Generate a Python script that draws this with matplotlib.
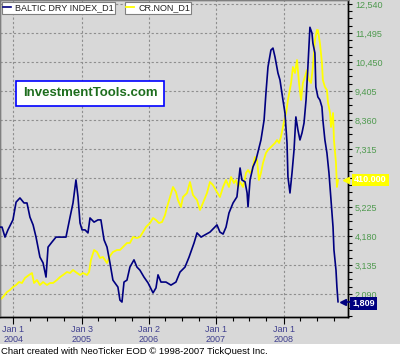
import matplotlib
matplotlib.use("Agg")
import matplotlib.pyplot as plt
import matplotlib.dates as mdates
from matplotlib.ticker import FixedLocator, FuncFormatter, MultipleLocator
from matplotlib.patches import Rectangle
import pandas as pd

# ---------------- data ----------------
bdi_dates = ["2003-10-20", "2003-10-31", "2003-11-16", "2003-12-02", "2003-12-29", "2004-01-15",
             "2004-02-05", "2004-02-27", "2004-03-14", "2004-03-30", "2004-04-16", "2004-05-02",
             "2004-05-23", "2004-06-09", "2004-06-25", "2004-07-06", "2004-07-27", "2004-08-18",
             "2004-09-19", "2004-10-11", "2004-11-02", "2004-11-18", "2004-12-04", "2004-12-15",
             "2004-12-26", "2005-01-06", "2005-01-22", "2005-02-07", "2005-02-18", "2005-03-12",
             "2005-04-02", "2005-04-18", "2005-05-05", "2005-05-21", "2005-06-06", "2005-06-22",
             "2005-07-19", "2005-07-30", "2005-08-10", "2005-08-21", "2005-09-06", "2005-09-22",
             "2005-10-14", "2005-10-30", "2005-11-15", "2005-12-07", "2005-12-29", "2006-01-25",
             "2006-02-10", "2006-02-21", "2006-03-09", "2006-04-05", "2006-05-02", "2006-05-29",
             "2006-06-20", "2006-07-17", "2006-08-08", "2006-09-04", "2006-09-20", "2006-10-12",
             "2006-11-02", "2006-11-29", "2006-12-21", "2007-01-06", "2007-01-22", "2007-02-08",
             "2007-02-24", "2007-03-12", "2007-04-03", "2007-04-24", "2007-04-30", "2007-05-11",
             "2007-05-21", "2007-06-07", "2007-06-18", "2007-06-23", "2007-07-04", "2007-07-20",
             "2007-08-05", "2007-08-16", "2007-09-01", "2007-09-18", "2007-09-28", "2007-10-09",
             "2007-10-25", "2007-11-05", "2007-11-16", "2007-12-02", "2007-12-13", "2007-12-29",
             "2008-01-09", "2008-01-20", "2008-01-25", "2008-02-05", "2008-02-16", "2008-02-27",
             "2008-03-08", "2008-03-19", "2008-03-30", "2008-04-10", "2008-04-21", "2008-05-02",
             "2008-05-12", "2008-05-23", "2008-06-03", "2008-06-08", "2008-06-19", "2008-06-24",
             "2008-07-05", "2008-07-16", "2008-07-27", "2008-08-01", "2008-08-12", "2008-08-23",
             "2008-09-03", "2008-09-14", "2008-09-25", "2008-09-30", "2008-10-11", "2008-10-16",
             "2008-10-22"]
bdi_values = [4500, 4500, 4140, 4400, 4760, 5400,
              5550, 5370, 5370, 4860, 4580, 4140,
              3420, 3210, 2700, 3780, 3960, 4140,
              4140, 4140, 4860, 5370, 6200, 5590,
              4650, 4400, 4400, 4290, 4830, 4680,
              4760, 4760, 4040, 3780, 3210, 2590,
              2340, 1870, 1800, 2520, 2590, 3060,
              3320, 3060, 2950, 2700, 2490, 2130,
              2310, 2780, 2520, 2520, 2410, 2520,
              2880, 3060, 3420, 3930, 4290, 4140,
              4220, 4320, 4470, 4580, 4320, 4250,
              4500, 5010, 5370, 5590, 5950, 6630,
              6200, 6130, 5730, 5230, 6200, 6670,
              6920, 7210, 7640, 8360, 9330, 10270,
              10880, 10950, 10630, 10050, 9800, 9080,
              8610, 7530, 6310, 5730, 6450, 7280,
              8470, 8000, 7640, 7890, 8250, 9080,
              10270, 11700, 11490, 11130, 10770, 9550,
              9190, 9080, 8830, 8360, 7640, 7170,
              6450, 5480, 4500, 3680, 2950, 2340,
              1809]

crnon_dates = ["2003-10-20", "2003-11-05", "2003-11-27", "2003-12-13", "2003-12-29", "2004-01-15",
               "2004-01-31", "2004-02-16", "2004-03-03", "2004-03-25", "2004-04-10", "2004-04-21",
               "2004-05-07", "2004-05-23", "2004-06-09", "2004-06-30", "2004-07-17", "2004-08-02",
               "2004-08-23", "2004-09-09", "2004-09-25", "2004-10-16", "2004-11-02", "2004-11-18",
               "2004-12-10", "2004-12-26", "2005-01-11", "2005-02-02", "2005-02-13", "2005-02-23",
               "2005-03-12", "2005-03-28", "2005-04-13", "2005-04-29", "2005-05-21", "2005-06-06",
               "2005-06-22", "2005-07-14", "2005-07-30", "2005-08-15", "2005-09-06", "2005-09-22",
               "2005-10-09", "2005-10-30", "2005-11-15", "2005-12-02", "2005-12-18", "2006-01-09",
               "2006-01-25", "2006-02-10", "2006-02-26", "2006-03-15", "2006-03-31", "2006-04-11",
               "2006-04-27", "2006-05-13", "2006-05-29", "2006-06-09", "2006-06-25", "2006-07-06",
               "2006-07-28", "2006-08-13", "2006-08-29", "2006-09-20", "2006-10-06", "2006-10-22",
               "2006-11-13", "2006-11-29", "2006-12-15", "2007-01-06", "2007-01-22", "2007-02-08",
               "2007-02-24", "2007-03-12", "2007-03-23", "2007-04-08", "2007-04-19", "2007-04-30",
               "2007-05-11", "2007-05-27", "2007-06-12", "2007-06-23", "2007-07-04", "2007-07-15",
               "2007-07-31", "2007-08-11", "2007-08-21", "2007-09-01", "2007-09-12", "2007-09-28",
               "2007-10-09", "2007-10-25", "2007-11-05", "2007-11-16", "2007-11-27", "2007-12-08",
               "2007-12-18", "2007-12-29", "2008-01-09", "2008-01-15", "2008-01-25", "2008-02-11",
               "2008-02-21", "2008-03-03", "2008-03-14", "2008-03-25", "2008-04-05", "2008-04-15",
               "2008-04-26", "2008-05-07", "2008-05-18", "2008-05-29", "2008-06-08", "2008-06-19",
               "2008-06-30", "2008-07-05", "2008-07-16", "2008-07-27", "2008-08-01", "2008-08-12",
               "2008-08-23", "2008-08-29", "2008-09-09", "2008-09-14", "2008-09-25", "2008-09-30",
               "2008-10-11", "2008-10-16", "2008-10-22"]
crnon_values = [170, 176, 186, 190, 196, 200,
                206, 204, 214, 220, 224, 204,
                210, 200, 206, 200, 204, 204,
                210, 216, 220, 226, 224, 230,
                224, 220, 224, 220, 226, 250,
                270, 266, 254, 256, 244, 258,
                266, 270, 270, 276, 284, 284,
                296, 294, 296, 306, 316, 324,
                334, 330, 324, 326, 340, 356,
                376, 396, 386, 370, 356, 376,
                384, 406, 380, 370, 350, 364,
                384, 406, 400, 386, 376, 396,
                410, 396, 416, 404, 410, 396,
                406, 396, 424, 430, 424, 430,
                456, 450, 410, 424, 444, 464,
                470, 476, 480, 484, 490, 484,
                496, 516, 536, 544, 570, 604,
                636, 624, 650, 604, 570, 604,
                616, 630, 610, 604, 636, 690,
                710, 710, 684, 644, 610, 596,
                590, 564, 544, 516, 544, 490,
                444, 396, 410]

bdi_ticks = [2090, 3135, 4180, 5225, 6270, 7315, 8360, 9405, 10450, 11495, 12540]
hidden_tick = 6270  # covered by the last-value box in the reference
x_tick_dates = ["2004-01-01", "2005-01-03", "2006-01-02", "2007-01-01", "2008-01-01"]
x_tick_labels = ["Jan 1\n2004", "Jan 3\n2005", "Jan 2\n2006", "Jan 1\n2007", "Jan 1\n2008"]
series_names = ["BALTIC DRY INDEX_D1", "CR.NON_D1"]
last_crnon_label = "410.000"
last_bdi_label = "1,809"

# ---------------- styling ----------------
plt.rcParams["font.family"] = ["Liberation Sans", "DejaVu Sans"]
BG = "#D8D8D8"
NAVY = "#000080"
YEL = "#FFFF00"
GREEN = "#4F9A4F"
XLAB = "#40408F"

fig = plt.figure(figsize=(4.0, 3.55), dpi=100, facecolor=BG)
fig.patches.append(Rectangle((0, 0), 1, 11 / 355, transform=fig.transFigure,
                             facecolor="white", edgecolor="none", zorder=0))

ax = fig.add_axes([0.0, 38 / 355, 348 / 400, 317 / 355])
ax.set_facecolor(BG)
ax2 = ax.twinx()

bd = pd.to_datetime(bdi_dates)
cd = pd.to_datetime(crnon_dates)

ax.set_xlim(pd.Timestamp("2003-10-20"), pd.Timestamp("2008-12-15"))
ax.set_ylim(1261, 12683)
ax2.set_ylim(136, 770)

# grid
gstyle = dict(color="#8E8E8E", linestyle=(0, (2, 2)), linewidth=0.8)
ax.grid(True, which="major", axis="both", **gstyle)
ax.set_axisbelow(True)

# lines (yellow below navy; both drawn on the top axes)
l_cr, = ax2.plot(cd, crnon_values, color=YEL, linewidth=1.3, label=series_names[1], zorder=2)
l_bdi, = ax2.plot(bd, bdi_values, color=NAVY, linewidth=1.2, label=series_names[0],
                  transform=ax.transData, zorder=3)

# y axis (right)
ax.yaxis.tick_right()
ax.yaxis.set_major_locator(FixedLocator(bdi_ticks))
ax.yaxis.set_minor_locator(MultipleLocator(1045 / 4))
ax.yaxis.set_major_formatter(FuncFormatter(lambda v, p: "" if round(v) == hidden_tick else f"{v:,.0f}"))
ax.tick_params(axis="y", which="major", direction="out", length=3, width=0.8,
               color="black", labelsize=6.5, labelcolor=GREEN, pad=2)
ax.tick_params(axis="y", which="minor", direction="out", length=3, width=0.8, color="black")
ax.tick_params(axis="y", left=False, labelleft=False)
ax2.tick_params(axis="y", right=False, labelright=False, left=False, labelleft=False)

# x axis
xt_num = mdates.date2num(pd.to_datetime(x_tick_dates))
ax.xaxis.set_major_locator(FixedLocator(xt_num))
ax.set_xticklabels(x_tick_labels, linespacing=1.15)
ax.xaxis.set_minor_locator(mdates.MonthLocator(bymonth=[4, 7, 10]))
ax.tick_params(axis="x", which="major", direction="out", length=5, width=0.8,
               color="black", labelsize=6.5, labelcolor=XLAB, pad=0.5)
ax.tick_params(axis="x", which="minor", direction="out", length=3, width=0.8, color="black")

for a in (ax, ax2):
    a.spines["left"].set_color("#7F7F7F")
    a.spines["top"].set_color("#7F7F7F")
    a.spines["right"].set_color("black")
    a.spines["bottom"].set_color("black")
    for s in a.spines.values():
        s.set_linewidth(1.0)
ax2.patch.set_visible(False)

# legends
leg_kw = dict(frameon=True, fancybox=False, framealpha=1, edgecolor="#808080",
              facecolor="white", fontsize=6.5, handlelength=0.9, handletextpad=0.4,
              borderpad=0.15, borderaxespad=0, labelcolor="#202020")
leg1 = ax2.legend(handles=[l_bdi], loc="upper left", bbox_to_anchor=(2 / 348, 1 - 2 / 317), **leg_kw)
leg1.get_frame().set_linewidth(0.8)
ax2.add_artist(leg1)
leg2 = ax2.legend(handles=[l_cr], loc="upper left", bbox_to_anchor=(125 / 348, 1 - 2 / 317), **leg_kw)
leg2.get_frame().set_linewidth(0.8)

# watermark box
ax2.text(90 / 348, 1 - 93.5 / 317, "InvestmentTools.com", transform=ax2.transAxes,
         ha="center", va="center", fontsize=9.5, fontweight="bold", color="#1E6E1E",
         bbox=dict(boxstyle="square,pad=0.5", facecolor="white", edgecolor="#0000FF", linewidth=1.2),
         zorder=6)

# last-value labels
ytr2 = ax2.get_yaxis_transform()
ytr1 = ax.get_yaxis_transform()
ax2.plot([1.0 - 2 / 348], [crnon_values[-1]], marker="<", markersize=4, color=YEL,
         transform=ytr2, clip_on=False, zorder=7)
ax2.annotate(last_crnon_label, xy=(1.0, crnon_values[-1]), xycoords=ytr2,
             xytext=(4.5, 0), textcoords="offset points", ha="left", va="center",
             fontsize=6.5, fontweight="bold", color="white",
             bbox=dict(boxstyle="square,pad=0.2", facecolor=YEL, edgecolor="none"),
             annotation_clip=False, zorder=8)
ax2.plot([1.0 - 5 / 348], [bdi_values[-1]], marker="<", markersize=4, color=NAVY,
         transform=ytr1, clip_on=False, zorder=7)
ax2.plot([1.0 - 5 / 348, 1.0 + 2 / 348], [bdi_values[-1]] * 2, color=NAVY, linewidth=1.2,
         transform=ytr1, clip_on=False, zorder=7)
ax2.annotate(last_bdi_label, xy=(1.0, bdi_values[-1]), xycoords=ytr1,
             xytext=(3, -1), textcoords="offset points", ha="left", va="center",
             fontsize=6.5, fontweight="bold", color="white",
             bbox=dict(boxstyle="square,pad=0.22", facecolor=NAVY, edgecolor="none"),
             annotation_clip=False, zorder=8)

# footer
fig.text(0.002, 1.5 / 355, "Chart created with NeoTicker EOD \u00a9 1998-2007 TickQuest Inc.",
         ha="left", va="baseline", fontsize=6.8, color="black")

fig.savefig("out.png", dpi=100, facecolor=BG)
